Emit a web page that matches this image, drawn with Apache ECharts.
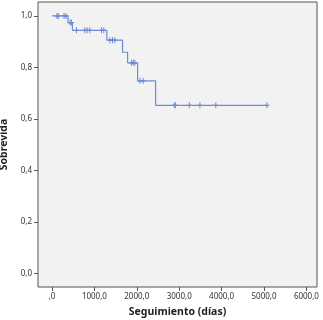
<!DOCTYPE html>
<html>
<head>
<meta charset="utf-8">
<script src="https://cdn.jsdelivr.net/npm/echarts@6/dist/echarts.min.js"></script>
<style>
  html, body { margin: 0; padding: 0; background: #fff; }
  #chart { width: 323px; height: 320px; }
</style>
</head>
<body>
<div id="chart"></div>
<script>
// Kaplan-Meier: tiempos de evento y supervivencia acumulada
const stepTimes = [0, 378, 482, 1293, 1664, 1783, 2019, 2444, 5069];
const stepSurv  = [1.0, 0.974, 0.944, 0.906, 0.859, 0.818, 0.748, 0.653, 0.653];

// casos censurados
const censorTimes = [118, 150, 284, 331, 426, 459, 577, 773, 827, 891, 1168, 1222,
  1364, 1428, 1482, 1877, 1915, 1955, 2076, 2151, 2884, 2908, 3239, 3489, 3863, 5069];
const censorSurv = [1.0, 1.0, 1.0, 1.0, 0.974, 0.974, 0.944, 0.944, 0.944, 0.944, 0.944, 0.944,
  0.906, 0.906, 0.906, 0.818, 0.818, 0.818, 0.748, 0.748, 0.653, 0.653, 0.653, 0.653, 0.653, 0.653];

const xTicks = [0, 1000, 2000, 3000, 4000, 5000, 6000];
const yTicks = [0, 0.2, 0.4, 0.6, 0.8, 1.0];

const chart = echarts.init(document.getElementById('chart'));

chart.setOption({
  animation: false,
  textStyle: { fontFamily: 'Noto Sans' },
  grid: {
    left: 38, top: 2, right: 6, bottom: 33,
    outerBoundsMode: 'none',
    containLabel: false,
    show: true,
    backgroundColor: '#F2F2F2',
    borderColor: '#555',
    borderWidth: 1
  },
  xAxis: {
    type: 'value',
    min: -330,
    max: 6250,
    name: 'Seguimiento (días)',
    nameLocation: 'middle',
    nameGap: 20,
    nameTextStyle: { fontSize: 10.5, fontWeight: 'bold', color: '#222' },
    axisLine: { show: false, onZero: false },
    axisTick: {
      show: true, length: 4, customValues: xTicks,
      lineStyle: { color: '#555' }
    },
    axisLabel: {
      customValues: xTicks,
      fontSize: 8, color: '#333', margin: 6,
      formatter: v => v === 0 ? ',0' : v + ',0'
    },
    splitLine: { show: false }
  },
  yAxis: {
    type: 'value',
    min: -0.052,
    max: 1.054,
    name: 'Sobrevida',
    nameLocation: 'middle',
    nameGap: 24,
    nameTextStyle: { fontSize: 10.5, fontWeight: 'bold', color: '#222' },
    axisLine: { show: false, onZero: false },
    axisTick: {
      show: true, length: 4, customValues: yTicks,
      lineStyle: { color: '#555' }
    },
    axisLabel: {
      customValues: yTicks,
      fontSize: 8, color: '#333', margin: 6,
      formatter: v => v.toFixed(1).replace('.', ',')
    },
    splitLine: { show: false }
  },
  series: [
    {
      type: 'line',
      step: 'end',
      showSymbol: false,
      data: stepTimes.map((t, i) => [t, stepSurv[i]]),
      lineStyle: { color: '#6F8BD8', width: 1.2 }
    },
    {
      type: 'scatter',
      symbol: 'path://M2,0h1v2h2v1h-2v2h-1v-2h-2v-1h2z',
      symbolSize: [5, 6],
      itemStyle: { color: '#4F6FCC' },
      data: censorTimes.map((t, i) => [t, censorSurv[i]])
    }
  ]
});
</script>
</body>
</html>
